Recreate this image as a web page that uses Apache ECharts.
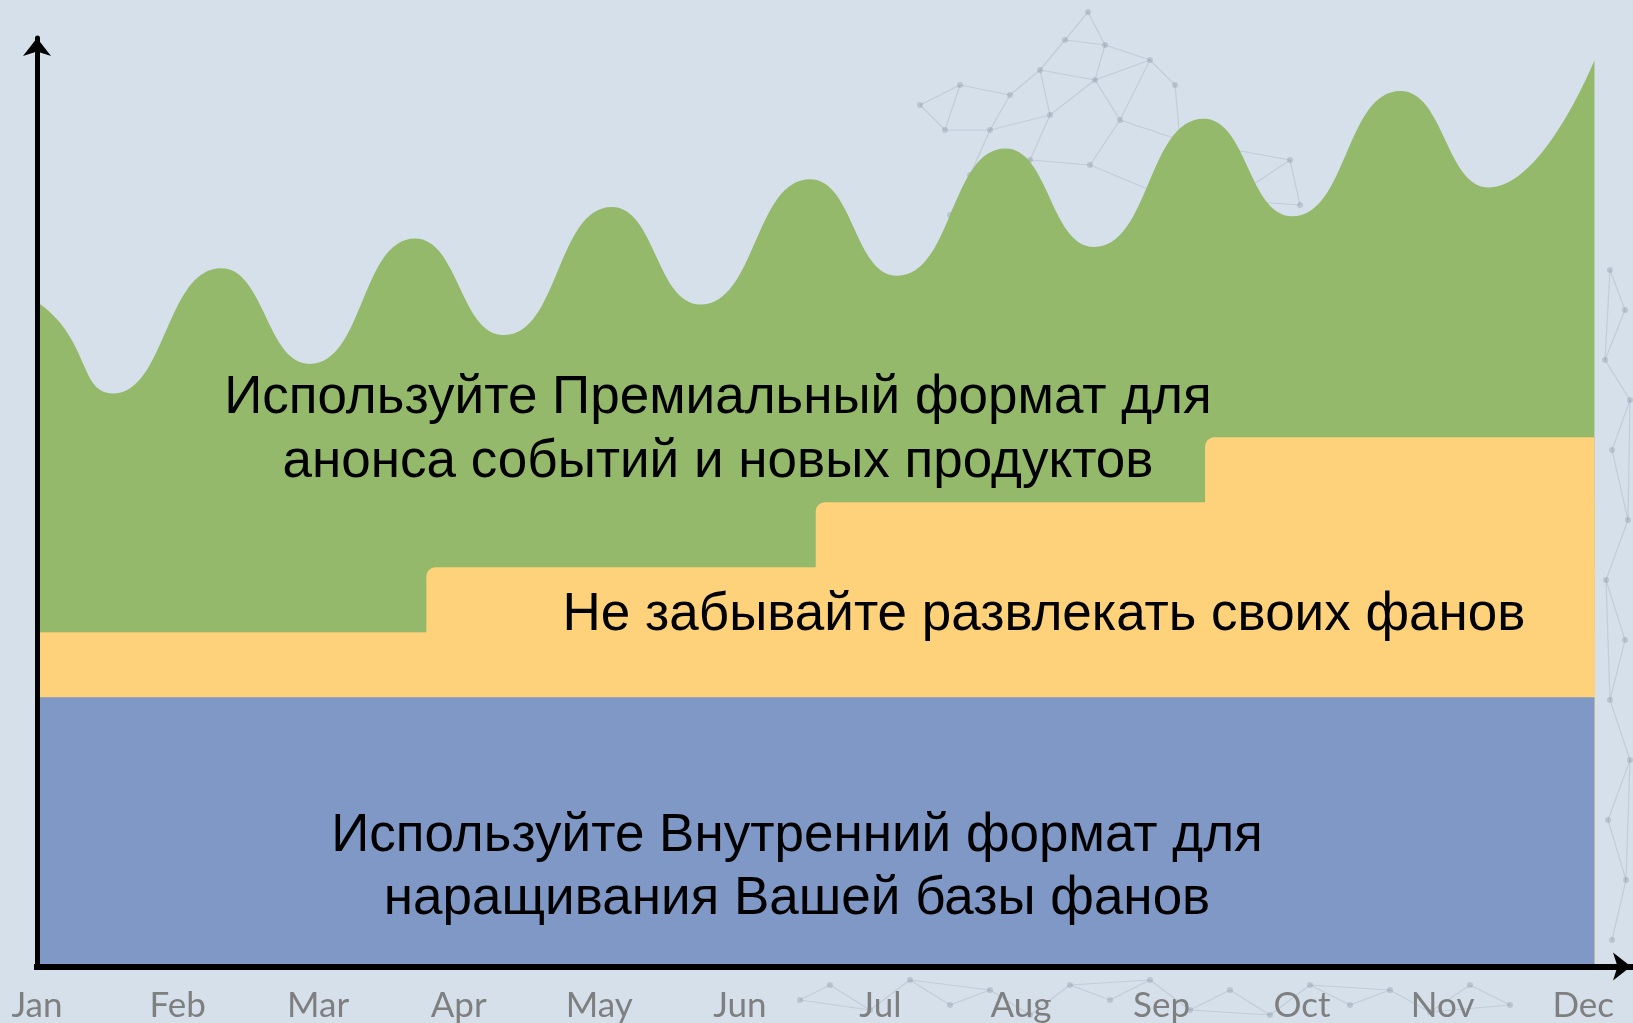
<!DOCTYPE html>
<html>
<head>
<meta charset="utf-8">
<script src="https://cdn.jsdelivr.net/npm/echarts@6/dist/echarts.min.js"></script>
<style>
  html, body { margin: 0; padding: 0; background: #d5e0eb; }
  #chart { width: 1633px; height: 1023px; }
</style>
</head>
<body>
<div id="chart"></div>
<script>
// Month ticks along the time axis
const months = ['Jan', 'Feb', 'Mar', 'Apr', 'May', 'Jun', 'Jul', 'Aug', 'Sep', 'Oct', 'Nov', 'Dec'];

// Premium format reach: position in months, value
const premiumX = [0, 0.16, 0.54, 1.31, 1.94, 2.69, 3.32, 4.09, 4.72, 5.50, 6.12, 6.89, 7.52, 8.30, 8.93, 9.70, 10.33, 11.08];
const premiumY = [71.6, 69.4, 61.7, 75.2, 64.9, 78.4, 68.0, 81.8, 71.3, 84.8, 74.4, 88.1, 77.5, 91.3, 80.8, 94.3, 83.9, 97.6];

// Entertainment content: step boundaries (months) and level of each step
const entertainEdges = [0, 2.77, 5.54, 8.31, 11.08];
const entertainTop = [36, 43, 50, 57];

// Internal format: constant base
const baseX = [0, 11.08];
const baseY = [29, 29];

const COLORS = { bg: '#d5e0eb', premium: '#94b96b', entertain: '#fed27a', base: '#7f98c6', net: '#7d8898' };

const premiumData = premiumX.map((x, i) => [x, premiumY[i]]);
const baseData = baseX.map((x, i) => [x, baseY[i]]);
const stepData = entertainTop.map((v, i) => [entertainEdges[i], entertainEdges[i + 1], v]);
const stepEnd = entertainEdges[entertainEdges.length - 1];

// Decorative plexus pattern in the background (page pixels)
const netNodes = [
  [1088, 12], [1065, 40], [1105, 45], [1040, 70], [1095, 80], [1150, 60], [1175, 85],
  [1010, 95], [960, 85], [920, 105], [945, 130], [990, 130], [1050, 115], [1120, 120],
  [1180, 140], [970, 175], [1030, 160], [1090, 165], [950, 215], [1010, 205], [1150, 190],
  [1230, 200], [1290, 160], [1300, 205],
  [1610, 270], [1625, 310], [1605, 360], [1630, 400], [1612, 450], [1628, 520], [1606, 580],
  [1625, 640], [1610, 700], [1630, 760], [1608, 820], [1626, 880], [1612, 940],
  [800, 1000], [830, 985], [870, 1010], [910, 980], [950, 1005], [990, 990], [1030, 1015],
  [1070, 985], [1110, 1000], [1150, 980], [1190, 1010], [1230, 990], [1270, 1015], [1310, 985],
  [1350, 1005], [1390, 990], [1430, 1012], [1470, 985], [1510, 1005]
];
const netLinks = [
  [0, 1], [0, 2], [1, 2], [1, 3], [2, 4], [3, 4], [2, 5], [5, 6], [4, 5], [3, 7], [7, 8], [8, 9],
  [9, 10], [8, 10], [10, 11], [7, 11], [11, 12], [3, 12], [12, 4], [4, 13], [13, 5], [13, 14],
  [6, 14], [11, 15], [15, 16], [12, 16], [16, 17], [17, 13], [15, 18], [18, 19], [19, 16],
  [17, 20], [20, 14], [20, 21], [21, 22], [22, 14], [21, 23], [23, 22],
  [24, 25], [25, 26], [26, 27], [27, 28], [28, 29], [29, 30], [30, 31], [31, 32], [32, 33],
  [33, 34], [34, 35], [35, 36], [24, 26], [27, 29], [30, 32], [33, 35],
  [37, 38], [38, 39], [39, 40], [40, 41], [41, 42], [42, 43], [43, 44], [44, 45], [45, 46],
  [46, 47], [47, 48], [48, 49], [49, 50], [50, 51], [51, 52], [52, 53], [53, 54], [54, 55],
  [37, 39], [40, 42], [44, 46], [47, 49], [50, 52], [53, 55]
];

const netGraphics = [];
netLinks.forEach(([a, b]) => {
  netGraphics.push({
    type: 'line', z: 1, silent: true,
    shape: { x1: netNodes[a][0], y1: netNodes[a][1], x2: netNodes[b][0], y2: netNodes[b][1] },
    style: { stroke: COLORS.net, lineWidth: 1.2, opacity: 0.22 }
  });
});
netNodes.forEach(([x, y]) => {
  netGraphics.push({
    type: 'circle', z: 1, silent: true,
    shape: { cx: x, cy: y, r: 3 },
    style: { fill: COLORS.net, opacity: 0.3 }
  });
});

const chart = echarts.init(document.getElementById('chart'), null, { renderer: 'canvas' });

const textFont = '"Liberation Sans", Arial, sans-serif';

chart.setOption({
  backgroundColor: COLORS.bg,
  animation: false,
  grid: { left: 37, right: 2, top: 38, bottom: 56, containLabel: false },
  xAxis: {
    type: 'value',
    min: 0,
    max: 11.34,
    interval: 1,
    z: 10,
    splitLine: { show: false },
    axisTick: { show: false },
    axisLine: {
      show: true,
      symbol: ['none', 'arrow'],
      symbolSize: [21, 18],
      lineStyle: { color: '#000', width: 6, cap: 'square' }
    },
    axisLabel: {
      show: true,
      margin: 39,
      verticalAlign: 'middle',
      color: '#7f7f7f',
      fontFamily: 'Lato, "Open Sans", sans-serif',
      fontSize: 35,
      showMaxLabel: false,
      formatter: v => (Number.isInteger(v) && months[v]) ? months[v] : ''
    }
  },
  yAxis: {
    type: 'value',
    min: 0,
    max: 100,
    z: 10,
    splitLine: { show: false },
    axisTick: { show: false },
    axisLabel: { show: false },
    axisLine: {
      show: true,
      symbol: ['none', 'arrow'],
      symbolSize: [21, 18],
      lineStyle: { color: '#000', width: 5 }
    }
  },
  series: [
    {
      name: 'premium',
      type: 'line',
      data: premiumData,
      smooth: 0.5,
      showSymbol: false,
      lineStyle: { width: 0 },
      areaStyle: { color: COLORS.premium, opacity: 1, origin: 'start' },
      z: 2,
      silent: true
    },
    {
      name: 'entertain',
      type: 'custom',
      data: stepData,
      encode: { x: [0, 1], y: 2 },
      z: 3,
      silent: true,
      renderItem: function (params, api) {
        const x0 = api.value(0), top = api.value(2);
        const p0 = api.coord([x0, top]);
        // each step runs under the following ones so no seam shows between them
        const p1 = api.coord([stepEnd, 0]);
        const r = params.dataIndex === 0 ? 0 : 9;
        return {
          type: 'rect',
          shape: { x: p0[0], y: p0[1], width: p1[0] - p0[0], height: p1[1] - p0[1], r: [r, 0, 0, 0] },
          style: { fill: COLORS.entertain }
        };
      }
    },
    {
      name: 'base',
      type: 'line',
      data: baseData,
      showSymbol: false,
      lineStyle: { width: 0 },
      areaStyle: { color: COLORS.base, opacity: 1, origin: 'start' },
      z: 4,
      silent: true
    }
  ],
  graphic: netGraphics.concat([
    {
      type: 'text', x: 718, y: 430, z: 20,
      style: {
        text: 'Используйте Премиальный формат для\nанонса событий и новых продуктов',
        font: '53px ' + textFont, fill: '#000', align: 'center', verticalAlign: 'middle', lineHeight: 64
      }
    },
    {
      type: 'text', x: 1044, y: 615, z: 20,
      style: {
        text: 'Не забывайте развлекать своих фанов',
        font: '53px ' + textFont, fill: '#000', align: 'center', verticalAlign: 'middle', lineHeight: 64
      }
    },
    {
      type: 'text', x: 797, y: 868, z: 20,
      style: {
        text: 'Используйте Внутренний формат для\nнаращивания Вашей базы фанов',
        font: '53px ' + textFont, fill: '#000', align: 'center', verticalAlign: 'middle', lineHeight: 63
      }
    }
  ])
});
</script>
</body>
</html>
